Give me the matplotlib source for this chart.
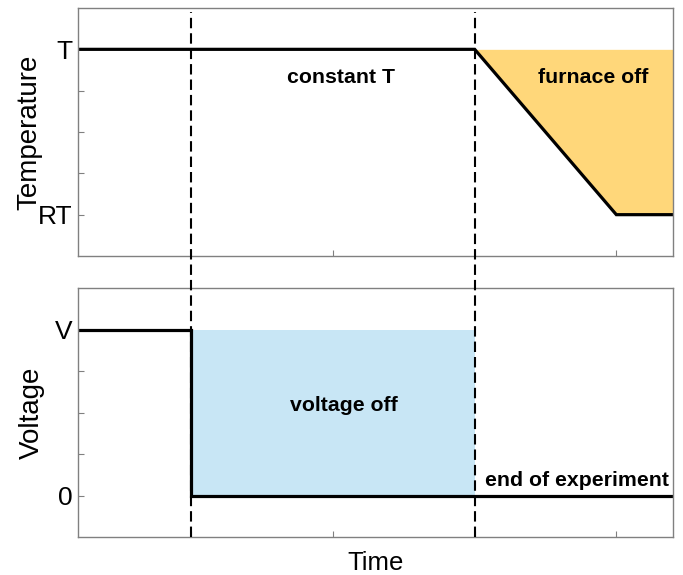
import matplotlib.pyplot as plt

plt.rcParams['font.family'] = ['Liberation Sans', 'DejaVu Sans']

# time axis (arbitrary units)
t_temp = [0, 7, 9.5, 10.5]
temp = [1, 1, 0, 0]          # 1 = T, 0 = RT
t_volt = [0, 2, 2, 10.5]
volt = [1, 1, 0, 0]          # 1 = V, 0 = 0
t_events = [2, 7]
x_ticks = [2, 4.5, 7, 9.5]

fig = plt.figure(figsize=(6.83, 5.75), dpi=100)
ax1 = fig.add_axes([78/683, 1 - 256/575, 595/683, 248/575])
ax2 = fig.add_axes([78/683, 1 - 537/575, 595/683, 249/575])

# top: temperature
ax1.fill_between(t_temp[1:], temp[1:], 1, color='#FFD77A', lw=0)
ax1.plot(t_temp, temp, color='black', lw=2.3, solid_joinstyle='miter')
ax1.text(4.64, 0.83, 'constant T', ha='center', va='center', fontsize=15.3, fontweight='bold')
ax1.text(9.09, 0.83, 'furnace off', ha='center', va='center', fontsize=15.3, fontweight='bold')
ax1.set_yticks([0, 0.25, 0.5, 0.75, 1])
ax1.set_yticklabels(['RT', '', '', '', 'T'])
ax1.set_ylabel('Temperature', fontsize=20, labelpad=-3)

# bottom: voltage
ax2.fill_between([2, 7], 0, 1, color='#C8E6F5', lw=0)
ax2.plot(t_volt, volt, color='black', lw=2.3, solid_joinstyle='miter')
ax2.text(4.69, 0.54, 'voltage off', ha='center', va='center', fontsize=15.3, fontweight='bold')
ax2.text(8.81, 0.09, 'end of experiment', ha='center', va='center', fontsize=15.3, fontweight='bold')
ax2.set_yticks([0, 0.25, 0.5, 0.75, 1])
ax2.set_yticklabels(['0', '', '', '', 'V'])
ax2.set_ylabel('Voltage', fontsize=20, labelpad=7)
ax2.set_xlabel('Time', fontsize=18.5, labelpad=6)

for ax in (ax1, ax2):
    ax.set_xlim(0, 10.5)
    ax.set_ylim(-0.25, 1.25)
    ax.set_xticks(x_ticks)
    ax.set_xticklabels([])
    ax.tick_params(direction='in', length=4, color='#808080', labelsize=19, pad=4)
    for s in ax.spines.values():
        s.set_color('#808080')
        s.set_linewidth(1)

# dashed event lines across both panels
for te in t_events:
    x = fig.transFigure.inverted().transform(ax1.transData.transform((te, 0)))[0]
    fig.add_artist(plt.Line2D([x, x], [1 - 537/575, 1 - 12/575],
                              transform=fig.transFigure, color='black',
                              lw=1.5, ls=(0, (5, 2.4))))

fig.savefig('out.png', dpi=100)
